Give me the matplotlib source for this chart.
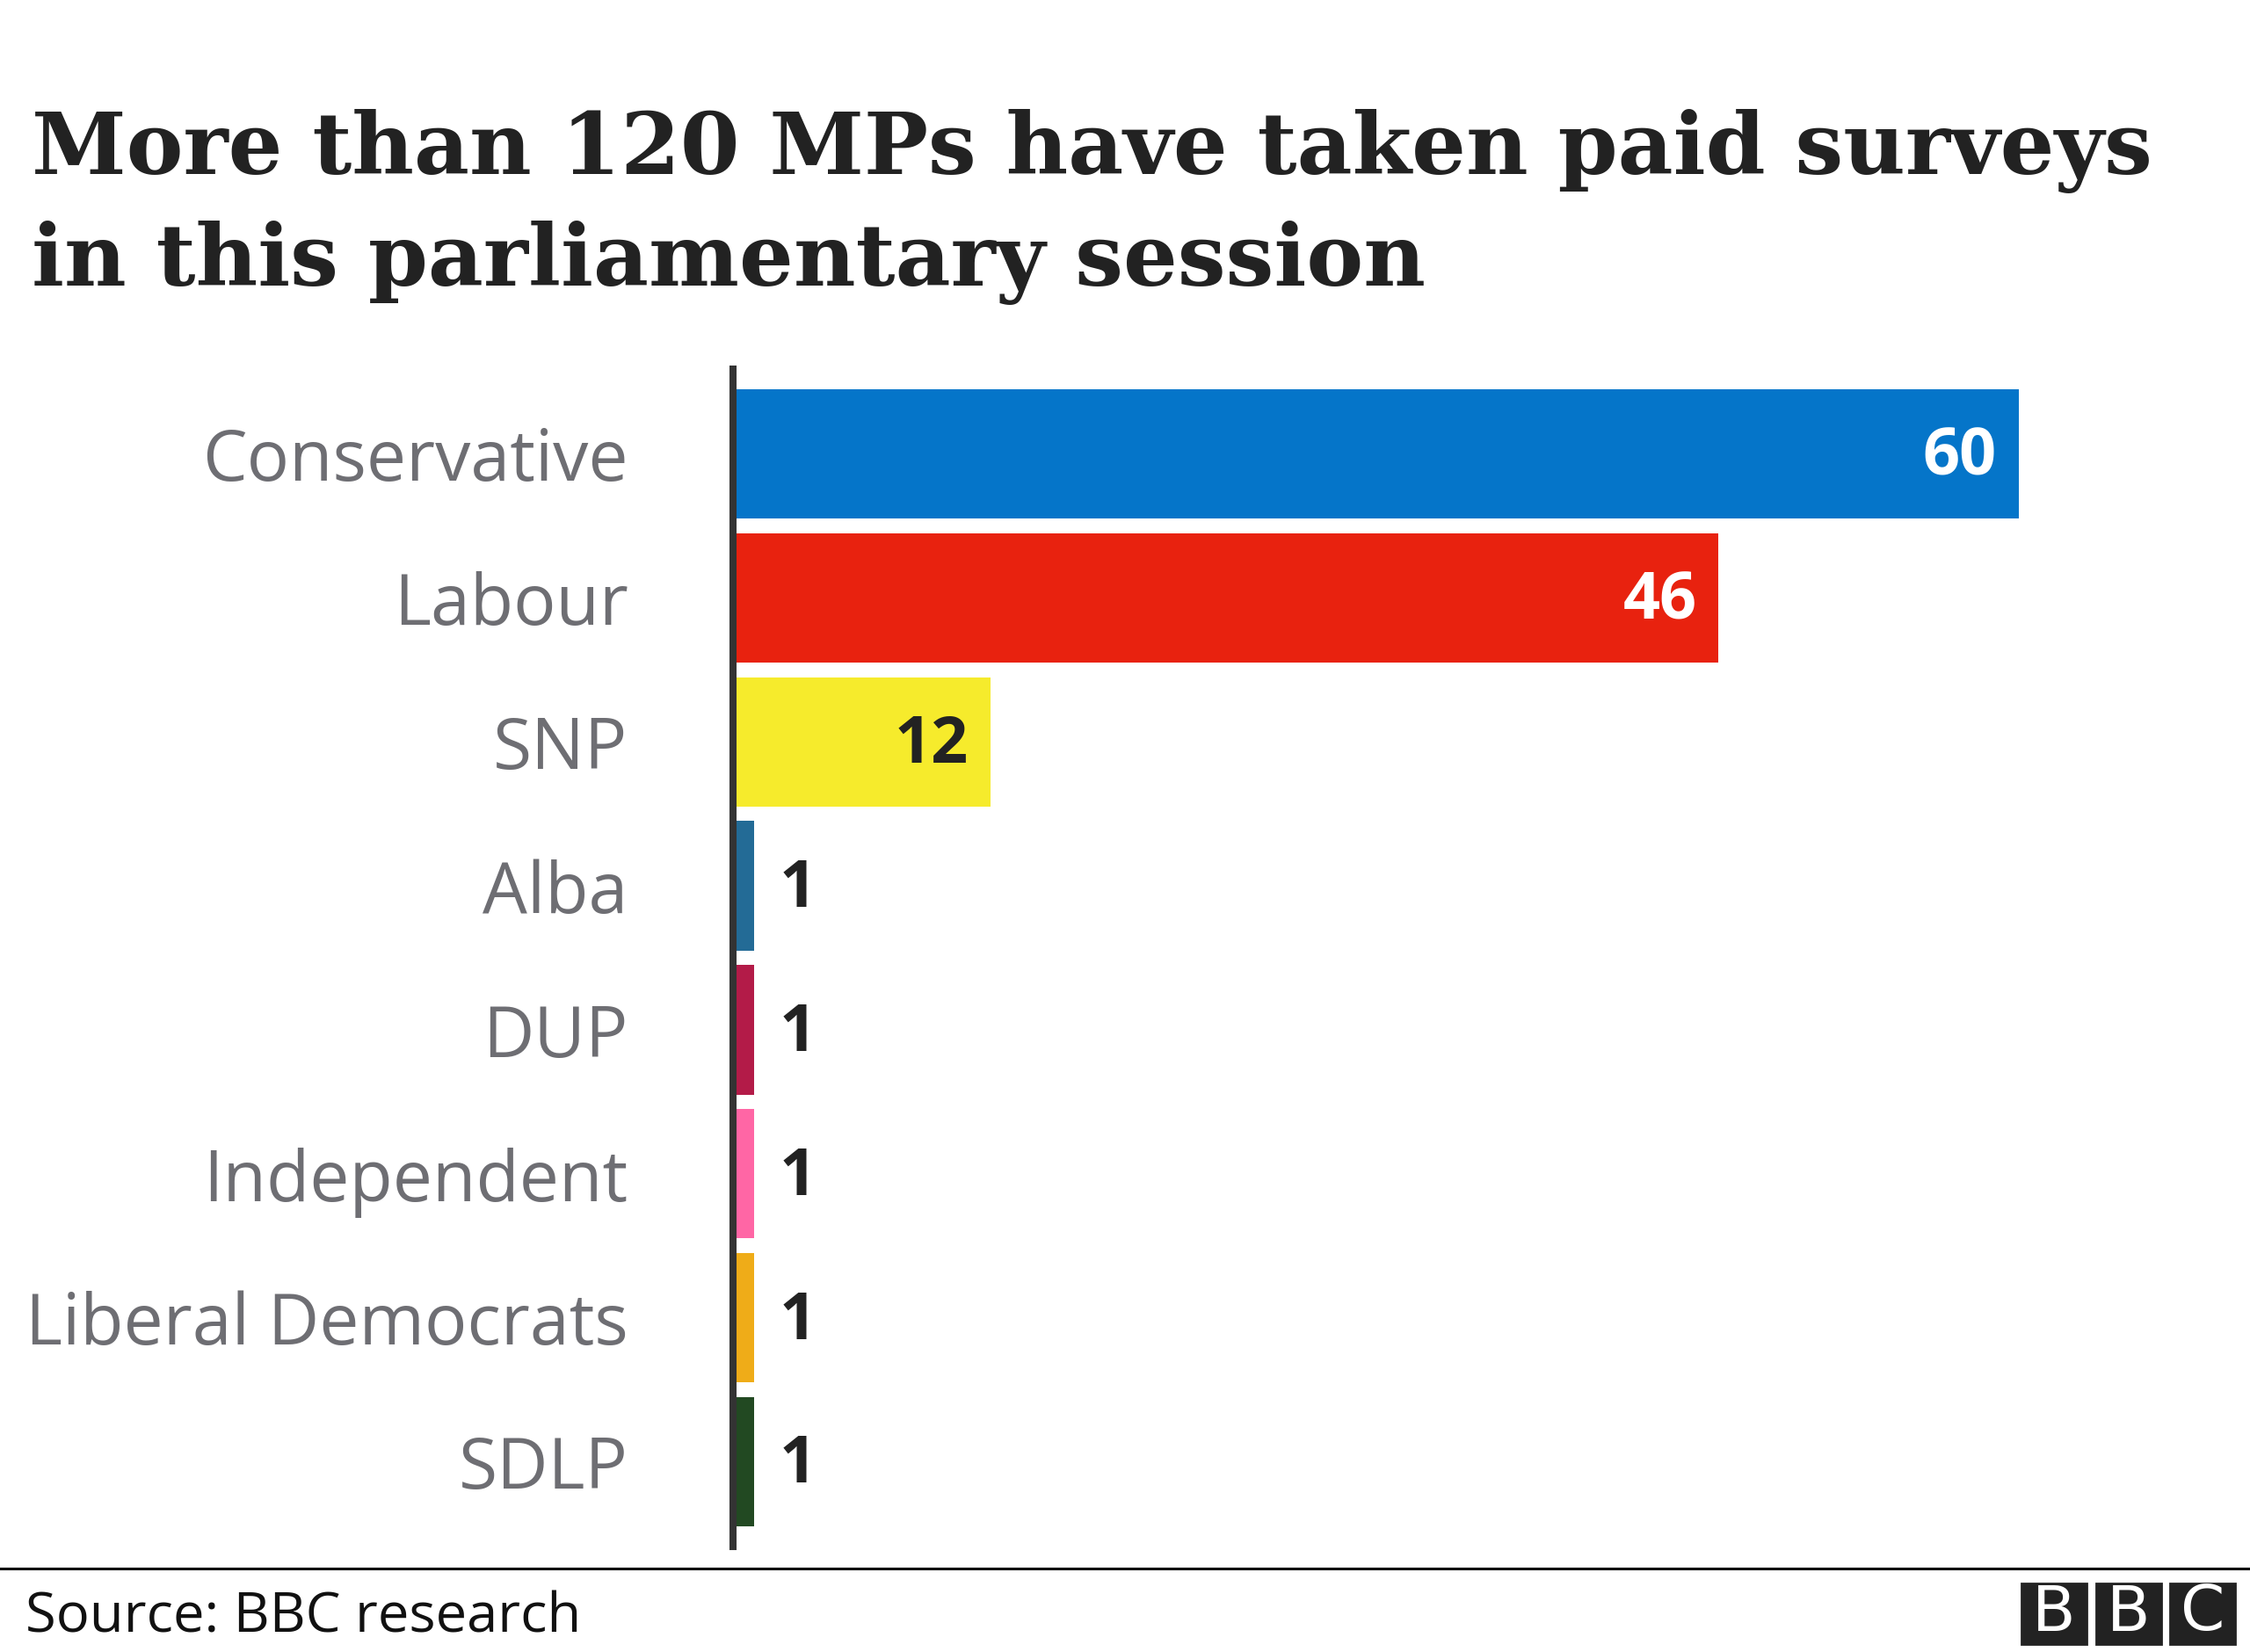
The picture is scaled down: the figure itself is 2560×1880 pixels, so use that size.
import matplotlib
matplotlib.use("Agg")
import matplotlib.pyplot as plt
from matplotlib.patches import Rectangle
from matplotlib.lines import Line2D

parties = ["Conservative", "Labour", "SNP", "Alba", "DUP",
           "Independent", "Liberal Democrats", "SDLP"]
mps = [60, 46, 12, 1, 1, 1, 1, 1]
colours = ["#0575c9", "#e8220f", "#f6eb2c", "#236b96", "#b31b48",
           "#ff66a5", "#efac18", "#224922"]
label_colours = ["white", "white", "#222222", "#222222", "#222222",
                 "#222222", "#222222", "#222222"]

title_1 = "More than 120 MPs have taken paid surveys"
title_2 = "in this parliamentary session"
source = "Source: BBC research"

sans = ["Open Sans", "DejaVu Sans"]

fig = plt.figure(figsize=(12.8, 9.4), dpi=200)
fig.patch.set_facecolor("white")

ax = fig.add_axes([0.3258, 0.0638, 0.6742, 0.7128])
y = range(len(parties))
ax.barh(y, mps, height=0.9, color=colours, zorder=1)
ax.set_xlim(0, 70.8)
ax.set_ylim(len(parties) - 1 + 0.59, -0.59)

for i, v in enumerate(mps):
    if v > 5:
        ax.annotate(str(v), (v, i), xytext=(-9, -1.8), textcoords="offset points",
                    ha="right", va="center", fontsize=26.5, fontweight="bold",
                    color=label_colours[i], family=sans)
    else:
        ax.annotate(str(v), (v, i), xytext=(10, -1.8), textcoords="offset points",
                    ha="left", va="center", fontsize=26.5, fontweight="bold",
                    color=label_colours[i], family=sans)

ax.set_yticks(list(y))
ax.set_yticklabels(parties, fontsize=29, color="#6e6e73", family=sans)
ax.tick_params(axis="y", length=0, pad=43)
ax.set_xticks([])
for s in ["top", "right", "bottom"]:
    ax.spines[s].set_visible(False)
ax.spines["left"].set_linewidth(2.9)
ax.spines["left"].set_color("#333333")
ax.spines["left"].set_zorder(3)

# title
fig.text(0.014, 0.8947, title_1, fontsize=35, fontweight="bold",
         family="DejaVu Serif", color="#222222", va="baseline")
fig.text(0.014, 0.827, title_2, fontsize=35, fontweight="bold",
         family="DejaVu Serif", color="#222222", va="baseline")

# footer
fig.add_artist(Line2D([0, 1], [1 - 1785 / 1880] * 2, transform=fig.transFigure,
                      color="black", linewidth=1.1))
fig.text(0.0113, 1 - 1857 / 1880, source, fontsize=22.8, family=sans,
         color="#111111", va="baseline")

# BBC blocks
for k, letter in enumerate("BBC"):
    x0 = (2300 + k * 84.5) / 2560
    fig.add_artist(Rectangle((x0, 1 - 1871 / 1880), 74 / 2560, 69 / 1880,
                             transform=fig.transFigure, color="#222222"))
    fig.text(x0 + 37 / 2560, 1 - 1836 / 1880, letter, fontsize=26,
             color="white", ha="center", va="center",
             family="DejaVu Sans")

fig.savefig("out.png", dpi=200, facecolor="white")
